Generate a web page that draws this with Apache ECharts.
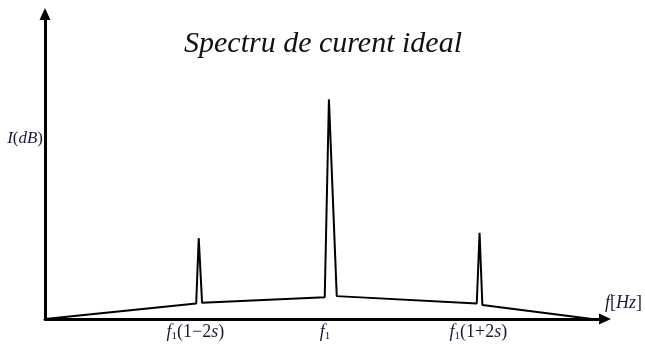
<!DOCTYPE html>
<html>
<head>
<meta charset="utf-8">
<script src="https://cdn.jsdelivr.net/npm/echarts@6/dist/echarts.min.js"></script>
<style>
  html, body { margin: 0; padding: 0; background: #fff; }
  #chart { width: 645px; height: 345px; }
</style>
</head>
<body>
<div id="chart"></div>
<script>
// spectrum polyline, frequency in arbitrary units (f1 ~ 100), level in arbitrary dB units
const freq = [0, 54.0, 54.9, 56.1, 99.9, 101.4, 104.2, 154.2, 155.2, 156.2, 195.4]
const level = [0, 5.1, 26.5, 5.3, 7.1, 72.0, 7.5, 5.1, 28.3, 4.6, 0]

// tick labels under the three components
const tickFreq = [53.7, 100.0, 154.8]
const tickLabels = [
    '{it|f}{sub|1}{rm|(1\u22122}{it|s}{rm|)}',
    '{it|f}{sub|1}',
    '{it|f}{sub|1}{rm|(1+2}{it|s}{rm|)}',
]
const yTickLevel = [59.3]
const yTickLabels = ['{it|I}{rm|(}{it|dB}{rm|)}']

const textColor = '#1a1a3a'
const serif = 'Liberation Serif'

const rich = {
    it: { fontFamily: serif, fontStyle: 'italic', fontSize: 18, color: textColor },
    rm: { fontFamily: serif, fontStyle: 'normal', fontSize: 18, color: textColor },
    sub: { fontFamily: serif, fontStyle: 'normal', fontSize: 11, color: textColor, padding: [9, 0, 0, 0] },
}
const richY = {
    it: { fontFamily: serif, fontStyle: 'italic', fontSize: 17, color: textColor },
    rm: { fontFamily: serif, fontStyle: 'normal', fontSize: 17, color: textColor },
}

const chart = echarts.init(document.getElementById('chart'))

chart.setOption({
    animation: false,
    title: {
        text: 'Spectru de curent ideal',
        left: 179,
        top: 24,
        textStyle: {
            fontFamily: serif,
            fontStyle: 'italic',
            fontWeight: 'normal',
            fontSize: 30,
            color: '#111',
        },
    },
    grid: {
        left: 45,
        right: 38,
        top: 14,
        bottom: 26,
    },
    xAxis: {
        type: 'value',
        min: 0,
        max: 200,
        name: '{it|f}{rm|[}{it|Hz}{rm|]}',
        nameLocation: 'end',
        nameGap: 0,
        nameTextStyle: {
            verticalAlign: 'bottom',
            padding: [0, 0, 7, 0],
            rich: rich,
        },
        axisLine: {
            show: true,
            symbol: ['none', 'triangle'],
            symbolSize: [11, 12],
            lineStyle: { color: '#000', width: 3 },
        },
        axisTick: { show: false },
        splitLine: { show: false },
        axisLabel: {
            customValues: tickFreq,
            margin: 3,
            formatter: (value) => {
                const i = tickFreq.indexOf(value)
                return i >= 0 ? tickLabels[i] : ''
            },
            rich: rich,
        },
    },
    yAxis: {
        type: 'value',
        min: 0,
        max: 100,
        axisLine: {
            show: true,
            symbol: ['none', 'triangle'],
            symbolSize: [11, 12],
            lineStyle: { color: '#000', width: 3 },
        },
        axisTick: { show: false },
        splitLine: { show: false },
        axisLabel: {
            customValues: yTickLevel,
            margin: 2,
            formatter: (value) => {
                const i = yTickLevel.indexOf(value)
                return i >= 0 ? yTickLabels[i] : ''
            },
            rich: richY,
        },
    },
    series: [
        {
            type: 'line',
            data: freq.map((f, i) => [f, level[i]]),
            showSymbol: false,
            clip: false,
            lineStyle: { color: '#000', width: 2 },
        },
    ],
})
</script>
</body>
</html>
